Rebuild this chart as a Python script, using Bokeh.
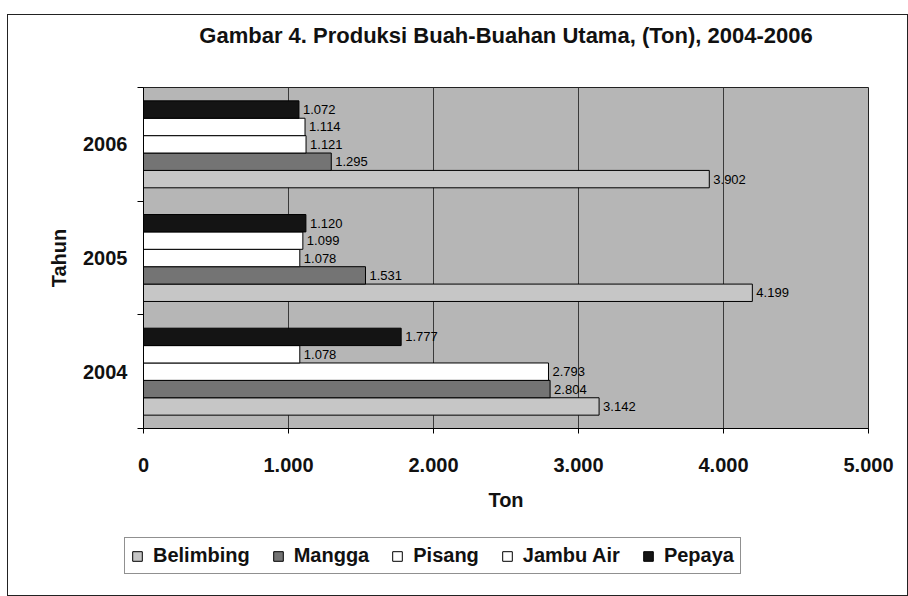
from bokeh.plotting import figure
from bokeh.layouts import column, row
from bokeh.models import FixedTicker, Legend, LegendItem, ColumnDataSource, Range1d
from bokeh.core.properties import value
from bokeh.embed import file_html
from bokeh.resources import INLINE

# ---- data ----
years = ["2004", "2005", "2006"]
series = ["Belimbing", "Mangga", "Pisang", "Jambu Air", "Pepaya"]
belimbing = [3142, 4199, 3902]
mangga = [2804, 1531, 1295]
pisang = [2793, 1078, 1121]
jambu_air = [1078, 1099, 1114]
pepaya = [1777, 1120, 1072]
x_ticks = [0, 1000, 2000, 3000, 4000, 5000]
x_tick_labels = ["0", "1.000", "2.000", "3.000", "4.000", "5.000"]
title_text = "Gambar 4. Produksi Buah-Buahan Utama, (Ton), 2004-2006"

values = [belimbing, mangga, pisang, jambu_air, pepaya]
fills = ["#c6c6c6", "#747474", "#ffffff", "#ffffff", "#141414"]

FONT = "Liberation Sans"
W = 899

p = figure(width=W, height=515, output_backend="svg", toolbar_location=None,
           x_range=Range1d(0, 5000), y_range=Range1d(-0.5, 2.5),
           min_border_left=135, min_border_right=39, min_border_top=68,
           min_border_bottom=102,
           title=title_text + "\n ")

p.title.align = "center"
p.title.text_font = FONT
p.title.text_font_size = "22px"
p.title.text_font_style = "bold"
p.title.text_color = "#111111"
p.title.text_line_height = 1.38

p.background_fill_color = "#b6b6b6"
p.border_fill_color = "white"
p.outline_line_color = "#222222"
p.outline_line_width = 1

bar_h = 0.153
sources = []
for i, (name, vals, fc) in enumerate(zip(series, values, fills)):
    ypos = [k + (i - 2) * bar_h for k in range(len(years))]
    labels = ["{:,}".format(v).replace(",", ".") for v in vals]
    src = ColumnDataSource(dict(y=ypos, right=vals, lab=labels))
    sources.append(src)
    p.hbar(y="y", left=0, right="right", height=bar_h, source=src,
           fill_color=fc, line_color="black", line_width=1)
    p.text(x="right", y="y", text="lab", source=src, x_offset=4,
           text_baseline="middle", text_align="left",
           text_font=value(FONT), text_font_size="13px", text_color="black")

# x axis
p.xaxis.ticker = FixedTicker(ticks=x_ticks)
p.xaxis.major_label_overrides = {t: l for t, l in zip(x_ticks, x_tick_labels)}
p.xaxis.major_tick_out = 5
p.xaxis.major_tick_in = 0
p.xaxis.minor_tick_out = 0
p.xaxis.minor_tick_in = 0
p.xaxis.major_label_standoff = 24
p.xaxis.axis_label = "Ton"
p.xaxis.axis_label_standoff = 14
p.xaxis.axis_line_color = "black"

# y axis
p.yaxis.ticker = FixedTicker(ticks=[0, 1, 2], minor_ticks=[-0.5, 0.5, 1.5, 2.5])
p.yaxis.major_label_overrides = {k: y for k, y in enumerate(years)}
p.yaxis.major_tick_out = 0
p.yaxis.major_tick_in = 0
p.yaxis.minor_tick_out = 6
p.yaxis.minor_tick_in = 0
p.yaxis.major_label_standoff = 10
p.yaxis.axis_label = "Tahun"
p.yaxis.axis_label_standoff = 10
p.yaxis.axis_line_color = "black"

for ax in (p.xaxis, p.yaxis):
    ax.major_label_text_font = FONT
    ax.major_label_text_font_size = "20px"
    ax.major_label_text_font_style = "bold"
    ax.major_label_text_color = "#111111"
    ax.axis_label_text_font = FONT
    ax.axis_label_text_font_size = "20px"
    ax.axis_label_text_font_style = "bold"
    ax.axis_label_text_color = "#111111"
    ax.major_tick_line_color = "black"
    ax.minor_tick_line_color = "black"

p.xgrid.ticker = FixedTicker(ticks=x_ticks)
p.xgrid.grid_line_color = "#3a3a3a"
p.xgrid.grid_line_width = 1
p.ygrid.grid_line_color = None

# ---- legend strip (separate figure below the chart) ----
# the series bars are re-used here but fall outside this strip's ranges,
# so only the legend is visible
q = figure(width=W, height=65, output_backend="svg", toolbar_location=None,
           x_range=Range1d(-2, -1), y_range=Range1d(-2, -1),
           x_axis_location=None, y_axis_location=None,
           min_border_left=0, min_border_right=0, min_border_top=0,
           min_border_bottom=0)
q.outline_line_color = None
q.background_fill_color = "white"
q.border_fill_color = "white"
q.xgrid.grid_line_color = None
q.ygrid.grid_line_color = None

items = []
for name, fc, src in zip(series, fills, sources):
    r = q.hbar(y="y", left=0, right="right", height=bar_h, source=src,
               fill_color=fc, line_color="black", line_width=1)
    items.append(LegendItem(label=name, renderers=[r]))

legend = Legend(items=items, orientation="horizontal", location=(116, 21),
                label_text_font=FONT, label_text_font_size="20px",
                label_text_font_style="bold", label_text_color="#111111",
                glyph_width=12, glyph_height=12, spacing=22, label_standoff=10,
                padding=6, margin=0,
                border_line_color="#222222", border_line_width=1,
                background_fill_color="white", background_fill_alpha=1)
q.add_layout(legend, "center")

layout = column(p, row(q), spacing=0)
layout.styles = {"border": "1px solid #222222", "margin-left": "7px",
                 "margin-top": "14px"}

open("out.html", "w").write(file_html(layout, INLINE))
